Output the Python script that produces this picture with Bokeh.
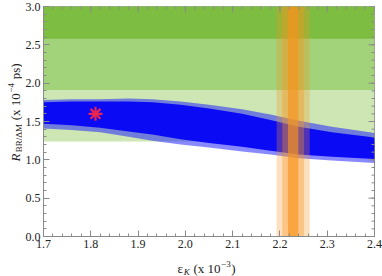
import math
from bokeh.plotting import figure
from bokeh.models import Label, LinearAxis, FixedTicker, Range1d
from bokeh.layouts import row, column
from bokeh.embed import file_html
from bokeh.resources import INLINE

# ---------------- data ----------------
x_ticks = [1.7, 1.8, 1.9, 2.0, 2.1, 2.2, 2.3, 2.4]
x_tick_labels = ["1.7", "1.8", "1.9", "2.0", "2.1", "2.2", "2.3", "2.4"]
y_ticks = [0.0, 0.5, 1.0, 1.5, 2.0, 2.5, 3.0]
y_tick_labels = ["0.0", "0.5", "1.0", "1.5", "2.0", "2.5", "3.0"]

# experimental R bands (lower edges, each extends to top of plot)
band_lo = [1.24, 1.91, 2.58]
band_hi = [3.0, 3.0, 3.0]
band_colors = ["#cde6b4", "#a2d27a", "#7dbd42"]

# experimental eps_K bands (centre and half-widths 3s, 2s, 1s)
eps_center = 2.228
eps_half = [0.035, 0.023, 0.011]
eps_alpha = [0.29, 0.35, 0.65]

# scan cloud boundaries
cloud_x = [1.70, 1.76, 1.82, 1.88, 1.93, 1.99, 2.05, 2.12, 2.18, 2.24, 2.31, 2.40]
core_hi = [1.75, 1.76, 1.76, 1.76, 1.75, 1.72, 1.67, 1.60, 1.52, 1.43, 1.36, 1.29]
halo_hi = [1.78, 1.79, 1.79, 1.80, 1.79, 1.76, 1.72, 1.66, 1.59, 1.51, 1.43, 1.35]
core_lo = [1.47, 1.45, 1.42, 1.37, 1.33, 1.27, 1.22, 1.17, 1.12, 1.07, 1.04, 1.01]
halo_lo = [1.41, 1.39, 1.36, 1.30, 1.25, 1.20, 1.16, 1.11, 1.07, 1.02, 0.99, 0.96]

# SM point
sm_x = [1.81]
sm_y = [1.60]

AX = "#8a8a8a"
FONT = "Liberation Serif"
TXT = "#222222"
NB = "\u00a0"

# ---------------- main figure ----------------
LW = 22          # width of the y-title strip
MW, MH = 382 - LW, 254
p = figure(width=MW, height=MH, output_backend="svg", toolbar_location=None,
           x_range=Range1d(x_ticks[0], x_ticks[-1]), y_range=Range1d(y_ticks[0], y_ticks[-1]),
           min_border_left=42 - LW, min_border_right=8, min_border_top=6, min_border_bottom=18,
           x_axis_location=None, y_axis_location=None)
p.grid.visible = False
p.outline_line_color = AX
p.background_fill_color = "white"
p.border_fill_color = "white"

for lo, hi, c in zip(band_lo, band_hi, band_colors):
    p.quad(left=x_ticks[0], right=x_ticks[-1], bottom=lo, top=hi, fill_color=c, line_color=None)

p.varea(x=cloud_x, y1=halo_lo, y2=halo_hi, fill_color="#1414ff", fill_alpha=0.5)
p.varea(x=cloud_x, y1=core_lo, y2=core_hi, fill_color="#0a0af5", fill_alpha=1.0)

for hw, a in zip(eps_half, eps_alpha):
    p.quad(left=eps_center - hw, right=eps_center + hw, bottom=y_ticks[0], top=y_ticks[-1],
           fill_color="#f7941d", fill_alpha=a, line_color=None)

p.scatter(x=sm_x, y=sm_y, marker="asterisk", size=14, line_color="#e8244f", line_width=2.2)

def minor_of(ticks):
    step = ticks[1] - ticks[0]
    return [round(ticks[0] + i * step / 5, 4) for i in range(5 * (len(ticks) - 1) + 1)]

x_minor = minor_of(x_ticks)
y_minor = minor_of(y_ticks)

for loc, is_x in [("below", True), ("left", False)]:
    ax = LinearAxis()
    ticks = x_ticks if is_x else y_ticks
    tlabels = x_tick_labels if is_x else y_tick_labels
    ax.ticker = FixedTicker(ticks=ticks, minor_ticks=x_minor if is_x else y_minor)
    ax.major_label_overrides = {t: l for t, l in zip(ticks, tlabels)}
    ax.axis_line_color = AX
    ax.major_tick_line_color = AX
    ax.minor_tick_line_color = AX
    ax.major_tick_in = 6
    ax.major_tick_out = 0
    ax.minor_tick_in = 3
    ax.minor_tick_out = 0
    ax.major_label_text_font = FONT
    ax.major_label_text_color = TXT
    ax.major_label_text_font_size = "12px"
    ax.major_label_standoff = 3
    p.add_layout(ax, loc)

# top and right frame ticks (inward), as dash markers clipped by the frame
p.scatter(x=x_ticks, y=[y_ticks[-1]] * len(x_ticks), marker="dash", angle=math.pi / 2,
          size=12, line_color=AX, line_width=1)
p.scatter(x=x_minor, y=[y_ticks[-1]] * len(x_minor), marker="dash", angle=math.pi / 2,
          size=6, line_color=AX, line_width=1)
p.scatter(x=[x_ticks[-1]] * len(y_ticks), y=y_ticks, marker="dash",
          size=12, line_color=AX, line_width=1)
p.scatter(x=[x_ticks[-1]] * len(y_minor), y=y_minor, marker="dash",
          size=6, line_color=AX, line_width=1)

# ---------------- title strips (labels live inside their own frames) ----------------
def strip(w, h):
    f = figure(width=w, height=h, output_backend="svg", toolbar_location=None,
               x_range=Range1d(0, 1), y_range=Range1d(0, 1),
               min_border=0, x_axis_location=None, y_axis_location=None)
    f.grid.visible = False
    f.outline_line_color = None
    f.background_fill_color = "white"
    f.border_fill_color = "white"
    return f

WIDTH_EM = {' ': 0.25, NB: 0.25, '(': 0.333, ')': 0.333, 'x': 0.5, '1': 0.5, '0': 0.5,
            '−': 0.564, '3': 0.5, '4': 0.5, 'p': 0.5, 's': 0.389, 'B': 0.667, 'R': 0.667,
            '/': 0.278, 'Δ': 0.65, 'M': 0.889, 'ε': 0.44, 'K': 0.667}

def tw(text, size):
    return sum(WIDTH_EM.get(ch, 0.5) for ch in text) * size

def rich(f, pieces, x0, y0, vertical=False):
    pos = 0.0
    for text, size, style, shift in pieces:
        if vertical:
            lx, ly, ang = x0 - shift, y0 - pos, math.pi / 2
        else:
            lx, ly, ang = x0 + pos, y0 - shift, 0
        f.add_layout(Label(x=lx, y=ly, x_units="canvas", y_units="canvas", text=text,
                           angle=ang, text_font=FONT, text_font_size=f"{size}px",
                           text_font_style=style, text_color=TXT,
                           text_align="left", text_baseline="alphabetic"))
        pos += tw(text, size) + 0.5

y_pieces = [("R", 13, "italic", 0), ("BR/ΔM", 9, "normal", -3),
            (NB + "(x" + NB + "10", 13, "normal", 0), ("−4", 9, "normal", 5),
            (NB + "ps)", 13, "normal", 0)]
x_pieces = [("ε", 13, "normal", 0), ("K", 9, "italic", -3),
            (NB + "(x" + NB + "10", 13, "normal", 0), ("−3", 9, "normal", 5),
            (")", 13, "normal", 0)]

left_strip = strip(LW, 276)
rich(left_strip, y_pieces, 15, 161, vertical=True)

bottom_strip = strip(MW, 276 - MH)
xw = sum(tw(t, s) for t, s, _, _ in x_pieces)
rich(bottom_strip, x_pieces, 205 - LW - xw / 2, 268 - MH)

layout = row(left_strip, column(p, bottom_strip, spacing=0), spacing=0)

open("out.html", "w").write(file_html(layout, INLINE))
